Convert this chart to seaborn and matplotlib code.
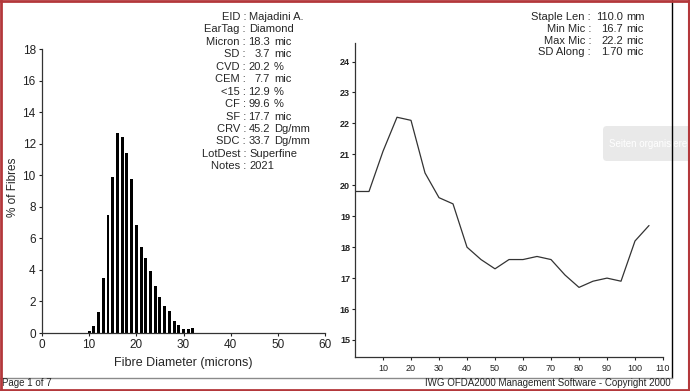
import numpy as np
import pandas as pd
import seaborn as sns
import matplotlib.pyplot as plt
from matplotlib.patches import FancyBboxPatch

# histogram: % of fibres per 1 micron class
diameter = [10, 11, 12, 13, 14, 15, 16, 17, 18, 19, 20, 21, 22, 23, 24, 25, 26, 27, 28, 29, 30, 31, 32]
pct_fibres = [0.15, 0.44, 1.33, 3.47, 7.5, 9.87, 12.7, 12.44, 11.39, 9.76, 6.84, 5.43, 4.77, 3.93,
              2.96, 2.3, 1.71, 1.39, 0.76, 0.51, 0.23, 0.23, 0.3]

# micron profile along the staple
staple_pos = [0, 5, 10, 15, 20, 25, 30, 35, 40, 45, 50, 55, 60, 65, 70, 75, 80, 85, 90, 95, 100, 105]
micron_along = [19.8, 19.8, 21.1, 22.2, 22.1, 20.4, 19.6, 19.4, 18.0, 17.6, 17.3, 17.6, 17.6, 17.7,
                17.6, 17.1, 16.7, 16.9, 17.0, 16.9, 18.2, 18.7]

info_labels = ['EID', 'EarTag', 'Micron', 'SD', 'CVD', 'CEM', '<15', 'CF', 'SF', 'CRV', 'SDC', 'LotDest', 'Notes']
info_values = ['Majadini A.', 'Diamond', '18.3 mic', '3.7 mic', '20.2 %', '7.7 mic', '12.9 %', '99.6 %',
               '17.7 mic', '45.2 Dg/mm', '33.7 Dg/mm', 'Superfine', '2021']
staple_labels = ['Staple Len', 'Min Mic', 'Max Mic', 'SD Along']
staple_values = ['110.0 mm', '16.7 mic', '22.2 mic', '1.70 mic']

hist_xticks = [0, 10, 20, 30, 40, 50, 60]
hist_yticks = [0, 2, 4, 6, 8, 10, 12, 14, 16, 18]
prof_xticks = [10, 20, 30, 40, 50, 60, 70, 80, 90, 100, 110]
prof_yticks = [15, 16, 17, 18, 19, 20, 21, 22, 23, 24]


def is_number(s):
    try:
        float(s)
        return True
    except ValueError:
        return False


sns.set_style('ticks')
plt.rcParams['font.family'] = ['Liberation Sans', 'DejaVu Sans']

W, H = 690, 391
fig = plt.figure(figsize=(W / 100, H / 100), dpi=100)

# page overlay in pixel coords (frame, footer, viewer popup)
bg = fig.add_axes([0, 0, 1, 1])
bg.set_xlim(0, W)
bg.set_ylim(H, 0)
bg.axis('off')
bg.add_patch(FancyBboxPatch((603, 126), 100, 35, boxstyle='round,pad=0,rounding_size=4',
                            fc='#e9e9e9', ec='none', zorder=1))
bg.text(609, 144, 'Seiten organisieren', color='white', fontsize=7, va='center', zorder=2, clip_on=True)
bg.plot([672, 672], [0, 378], color='black', lw=1, zorder=3)
bg.plot([0, 672], [378, 378], color='#8a8a8a', lw=1, zorder=3)
red = '#b3383b'
bg.plot([1, 1], [0, H], color=red, lw=2, zorder=4)
bg.plot([0, W], [1, 1], color=red, lw=2, zorder=4)
bg.plot([0, W], [389.5, 389.5], color=red, lw=2, zorder=4)
bg.plot([689, 689], [0, H], color=red, lw=1.5, zorder=4)
bg.text(2, 383.5, 'Page 1 of 7', fontsize=7, va='center', ha='left')
bg.text(671, 383.5, 'IWG OFDA2000 Management Software - Copyright 2000', fontsize=7, va='center', ha='right')

# info block left
for i, (lab, val) in enumerate(zip(info_labels, info_values)):
    y = 17 + i * 12.45
    bg.text(246, y, lab + ' :', fontsize=8, ha='right', va='center')
    parts = val.split(' ')
    if len(parts) == 2 and is_number(parts[0]):
        bg.text(270, y, parts[0], fontsize=8, ha='right', va='center')
        bg.text(274, y, parts[1], fontsize=8, ha='left', va='center')
    else:
        bg.text(249, y, val, fontsize=8, ha='left', va='center')

# info block right
for i, (lab, val) in enumerate(zip(staple_labels, staple_values)):
    y = 17 + i * 11.8
    bg.text(591, y, lab + ' :', fontsize=8, ha='right', va='center')
    num, unit = val.split(' ')
    bg.text(623, y, num, fontsize=8, ha='right', va='center')
    bg.text(626, y, unit, fontsize=8, ha='left', va='center')

# histogram
ax1 = fig.add_axes([42 / W, 1 - 333 / H, 283 / W, 284 / H])
ax1.patch.set_alpha(0)
sns.barplot(x=diameter, y=pct_fibres, native_scale=True, width=0.62, color='black',
            saturation=1, ax=ax1)
for p in ax1.patches:
    p.set_antialiased(False)
    p.set_linewidth(0)
ax1.set_xlim(0, 60)
ax1.set_ylim(0, 18)
ax1.set_xticks(hist_xticks)
ax1.set_yticks(hist_yticks)
sns.despine(ax=ax1)
ax1.tick_params(labelsize=8.5, length=2.5, width=0.8, pad=2, colors='#222222')
ax1.set_xlabel('Fibre Diameter (microns)', fontsize=9)
ax1.set_ylabel('% of Fibres', fontsize=8.5)
ax1.xaxis.set_label_coords(0.5, -0.085)
ax1.yaxis.set_label_coords(-0.08, 0.514)
for s in ax1.spines.values():
    s.set_color('#333333')
    s.set_linewidth(0.9)

# micron profile
ax2 = fig.add_axes([355 / W, 1 - 357 / H, 308 / W, 314 / H])
ax2.patch.set_alpha(0)
sns.lineplot(x=staple_pos, y=micron_along, color='#333333', lw=0.9, ax=ax2)
ax2.set_xlim(0, 110)
ax2.set_ylim(14.45, 24.6)
ax2.set_xticks(prof_xticks)
ax2.set_yticks(prof_yticks)
sns.despine(ax=ax2)
ax2.tick_params(labelsize=6.5, length=2, width=0.8, pad=1.5, colors='#222222')
ax2.tick_params(axis='x', pad=3)
for lbl in ax2.get_yticklabels():
    lbl.set_fontweight('bold')
for s in ax2.spines.values():
    s.set_color('#333333')
    s.set_linewidth(0.9)

fig.savefig('out.png', dpi=100)
